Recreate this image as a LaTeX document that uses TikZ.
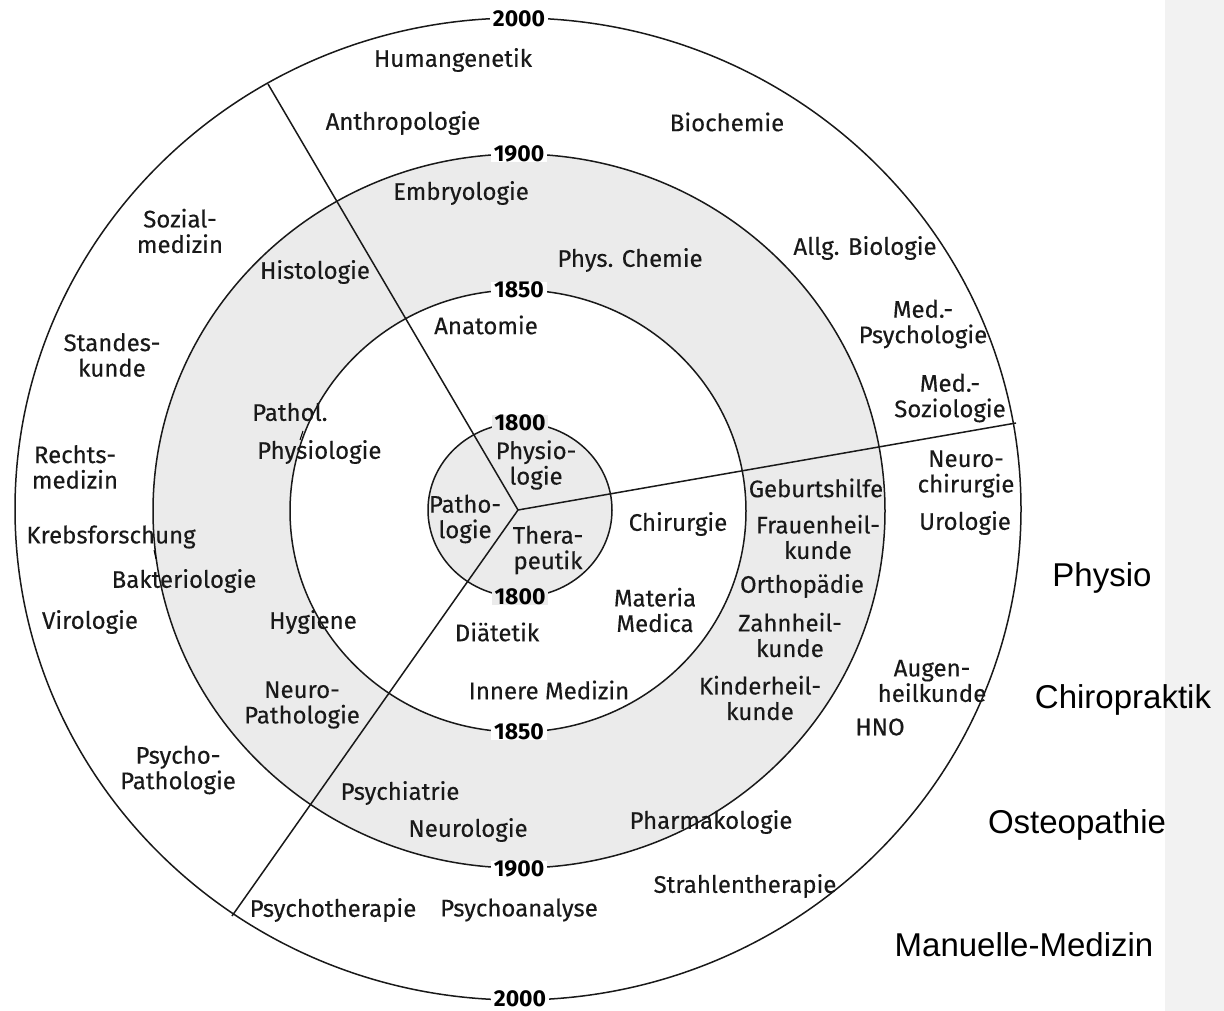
\documentclass[tikz,border=0pt]{standalone}
\usepackage{fontspec}
\setmainfont{Fira Sans}
\newfontfamily\lblfont{Fira Sans}[FakeBold=0.25]
\newfontfamily\arialfont{Liberation Sans}
\begin{document}
\begin{tikzpicture}[x=1pt,y=-1pt,
  lbl/.style={font=\lblfont\fontsize{24}{25.5}\selectfont, text=black!90, align=center, inner sep=0pt},
  yearlbl/.style={font=\fontsize{23}{23}\selectfont\bfseries, fill=white, inner xsep=3pt, inner ysep=0pt},
  rightlbl/.style={font=\arialfont\fontsize{33}{36}\selectfont, inner sep=0pt},
  ring/.style={line width=1.5pt, black!90},
  spoke/.style={line width=1.5pt, black!90},
  shade/.style={fill=black!8}]
\useasboundingbox (0,0) rectangle (1224,1011);
\fill[white] (0,0) rectangle (1224,1011);
\fill[gray!10] (1165,0) rectangle (1224,1011);
% shaded areas
\fill[shade, even odd rule] (519,511) ellipse [x radius=366pt, y radius=357pt]
      (518,511) ellipse [x radius=228pt, y radius=221pt];
\fill[shade] (520,510) ellipse [x radius=92pt, y radius=87pt];
% rings
\draw[ring] (518,509) ellipse [x radius=503pt, y radius=491pt];
\draw[ring] (519,511) ellipse [x radius=366pt, y radius=357pt];
\draw[ring] (518,511) ellipse [x radius=228pt, y radius=221pt];
\draw[ring] (520,510) ellipse [x radius=92pt, y radius=87pt];
% spokes
\coordinate (c) at (518,510);
\coordinate (ul) at (268,84);
\coordinate (ur) at (1016,423);
\coordinate (ll) at (232,916);
\draw[spoke] (c) -- (ul);
\draw[spoke] (c) -- (ur);
\draw[spoke] (c) -- (ll);
% year labels
\node[yearlbl] (y2000t) at (519,19) {2000};
\node[yearlbl] (y2000b) at (520,999) {2000};
\node[yearlbl] (y1900t) at (519,154) {1900};
\node[yearlbl] (y1900b) at (519,869) {1900};
\node[yearlbl] (y1850t) at (519,290) {1850};
\node[yearlbl] (y1850b) at (519,732) {1850};
\node[yearlbl, fill=black!8] (y1800t) at (520,423) {1800};
\node[yearlbl, fill=black!8] (y1800b) at (520,597) {1800};
% outer ring labels
\node[lbl] (humangenetik) at (453,60) {Humangenetik};
\node[lbl] (anthropologie) at (403,123) {Anthropologie};
\node[lbl] (biochemie) at (727,122) {Biochemie};
\node[lbl] (sozialmedizin) at (180,231) {Sozial-\\medizin};
\node[lbl] (allgbiologie) at (865,248) {Allg. Biologie};
\node[lbl] (medpsych) at (923,324) {Med.-\\Psychologie};
\node[lbl] (medsoz) at (950,398) {Med.-\\Soziologie};
\node[lbl] (standeskunde) at (112,355) {Standes-\\kunde};
\node[lbl] (rechtsmedizin) at (75,467) {Rechts-\\medizin};
\node[lbl] (neurochirurgie) at (966,474) {Neuro-\\chirurgie};
\node[lbl] (urologie) at (965,523) {Urologie};
\node[lbl] (krebsforschung) at (111,537) {Krebsforschung};
\node[lbl] (virologie) at (90,622) {Virologie};
\node[lbl] (augenheilkunde) at (932,681) {Augen-\\heilkunde};
\node[lbl] (hno) at (880,727) {HNO};
\node[lbl] (psychopathologie) at (178,770) {Psycho-\\Pathologie};
\node[lbl] (strahlentherapie) at (745,886) {Strahlentherapie};
\node[lbl] (psychotherapie) at (333,910) {Psychotherapie};
\node[lbl] (psychoanalyse) at (519,910) {Psychoanalyse};
% shaded ring labels
\node[lbl] (embryologie) at (461,193) {Embryologie};
\node[lbl] (histologie) at (315,272) {Histologie};
\node[lbl] (physchemie) at (630,260) {Phys. Chemie};
\node[lbl] (geburtshilfe) at (816,488) {Geburtshilfe};
\node[lbl] (frauenheilkunde) at (818,537) {Frauenheil-\\kunde};
\node[lbl] (bakteriologie) at (184,581) {Bakteriologie};
\node[lbl] (orthopaedie) at (802,586) {Orthopädie};
\node[lbl] (zahnheilkunde) at (790,635) {Zahnheil-\\kunde};
\node[lbl] (kinderheilkunde) at (760,698) {Kinderheil-\\kunde};
\node[lbl] (neuropathologie) at (302,705) {Neuro-\\Pathologie};
\node[lbl] (psychiatrie) at (400,793) {Psychiatrie};
\node[lbl] (neurologie) at (468,830) {Neurologie};
\node[lbl] (pharmakologie) at (711,822) {Pharmakologie};
% 1850 ring labels
\node[lbl] (anatomie) at (486,325) {Anatomie};
\node[lbl, anchor=west] (pathol) at (252,412) {Pathol.};
\node[lbl, anchor=west] (physiologie) at (257,452) {Physiologie};
\node[lbl] (chirurgie) at (678,524) {Chirurgie};
\node[lbl] (hygiene) at (313,622) {Hygiene};
\node[lbl] (diaetetik) at (497,632) {Diätetik};
\node[lbl] (materiamedica) at (655,610) {Materia\\Medica};
\node[lbl] (inneremedizin) at (549,690) {Innere Medizin};
% centre labels
\node[lbl] (physiologie2) at (536,465) {Physio-\\logie};
\node[lbl] (pathologie) at (465,519) {Patho-\\logie};
\node[lbl] (therapeutik) at (548,550) {Thera-\\peutik};
% small ticks
\draw[line width=1pt] (300,440) -- (303,431);
\draw[line width=1pt] (154,550) -- (156,559);
% right-side labels
\node[rightlbl] (physio) at (1102,578) {Physio};
\node[rightlbl] (chiropraktik) at (1123,700) {Chiropraktik};
\node[rightlbl] (osteopathie) at (1077,825) {Osteopathie};
\node[rightlbl] (manuelle) at (1024,945) {Manuelle-Medizin};
\end{tikzpicture}
\end{document}
